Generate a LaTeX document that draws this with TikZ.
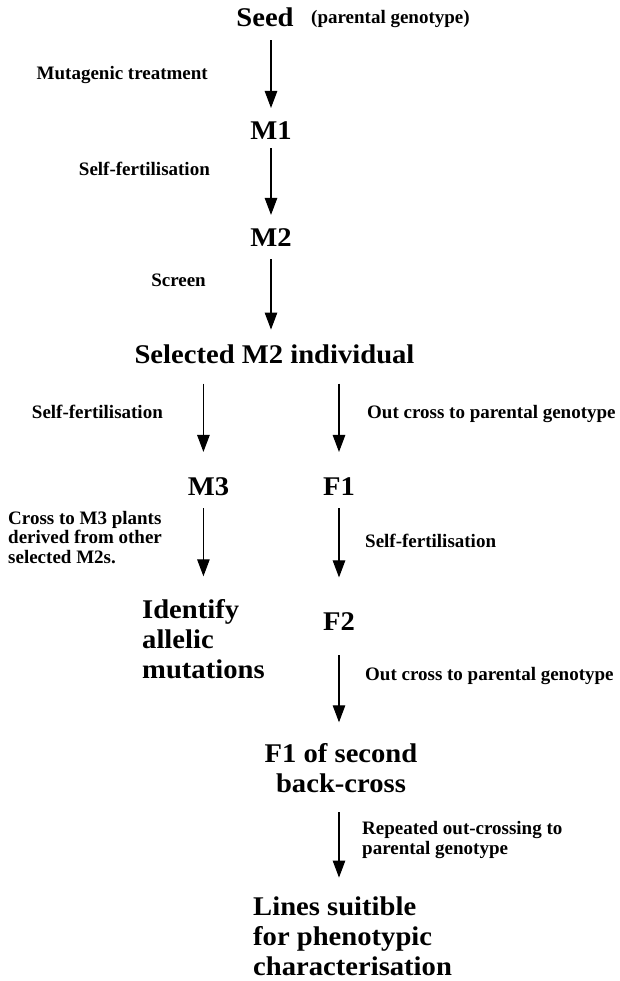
\documentclass[tikz,border=0pt]{standalone}
\usepackage{fontspec}
\setmainfont{Liberation Serif}
\newfontfamily\stagefont{Liberation Serif}[FakeStretch=1.06]
\usetikzlibrary{arrows.meta}

\begin{document}
\begin{tikzpicture}[x=1pt, y=-1pt,
    stage/.style={inner sep=0pt, font=\stagefont\bfseries\fontsize{27}{30}\selectfont},
    note/.style={inner sep=0pt, font=\bfseries\fontsize{19}{19.5}\selectfont},
    flow/.style={-{Triangle[length=17pt,width=12.5pt]}, line width=1.1pt}]
    \useasboundingbox (0,0) rectangle (620,981);

    % 主干
    \node[stage, anchor=base] (seed) at (265,27) {Seed};
    \node[note, anchor=base west] (parent) at (311,24) {(parental genotype)};
    \node[stage, anchor=base] (m1) at (271,140) {M1};
    \node[stage, anchor=base] (m2) at (271,247) {M2};
    \node[stage, anchor=base] (sel) at (274.5,363) {Selected M2 individual};

    % 两个分支
    \node[stage, anchor=base] (m3) at (208.5,495) {M3};
    \node[stage, anchor=base] (f1) at (339,495) {F1};
    \node[stage, anchor=base west, align=left] (ident) at (142,678) {Identify\\ allelic\\ mutations};
    \node[stage, anchor=base] (f2) at (339,630) {F2};
    \node[stage, anchor=base, align=center] (f1sc) at (341,792) {F1 of second\\ back-cross};
    \node[stage, anchor=base west, align=left] (lines) at (253,975) {Lines suitible\\ for phenotypic\\ characterisation};

    % 步骤说明
    \node[note, anchor=base east] (mut) at (208,80) {Mutagenic treatment};
    \node[note, anchor=base east] (self1) at (210,176) {Self-fertilisation};
    \node[note, anchor=base east] (screen) at (206,287) {Screen};
    \node[note, anchor=base east] (self2) at (163,418) {Self-fertilisation};
    \node[note, anchor=base west] (out1) at (367,418) {Out cross to parental genotype};
    \node[note, anchor=base west, align=left] (cross) at (8,563) {Cross to M3 plants\\ derived from other\\ selected M2s.};
    \node[note, anchor=base west] (self3) at (365,547) {Self-fertilisation};
    \node[note, anchor=base west] (out2) at (365,680) {Out cross to parental genotype};
    \node[note, anchor=base west, align=left] (rep) at (362,854) {Repeated out-crossing to\\ parental genotype};

    % 箭头
    \draw[flow, shorten <=13pt, shorten >=14pt] (m1.north |- seed.south) -- (m1.north);
    \draw[flow, shorten <=8pt, shorten >=14pt] (m1.south) -- (m2.north);
    \draw[flow, shorten <=12pt, shorten >=14.5pt] (m2.south) -- (m2.south |- sel.north);
    \draw[flow, shorten <=20pt, shorten >=25pt] (ident.north |- sel.south) -- (ident.north |- m3.north);
    \draw[flow, shorten <=20pt, shorten >=25pt] (f1.north |- sel.south) -- (f1.north);
    \draw[flow, shorten <=13pt, shorten >=22.5pt] (ident.north |- m3.south) -- (ident.north);
    \draw[flow, shorten <=13pt, shorten >=34.5pt] (f1.south) -- (f2.north);
    \draw[flow, shorten <=25pt, shorten >=20.5pt] (f2.south) -- (f2.south |- f1sc.north);
    \draw[flow, shorten <=20pt, shorten >=18.5pt] (f2.south |- f1sc.south) -- (f2.south |- lines.north);

\end{tikzpicture}
\end{document}
